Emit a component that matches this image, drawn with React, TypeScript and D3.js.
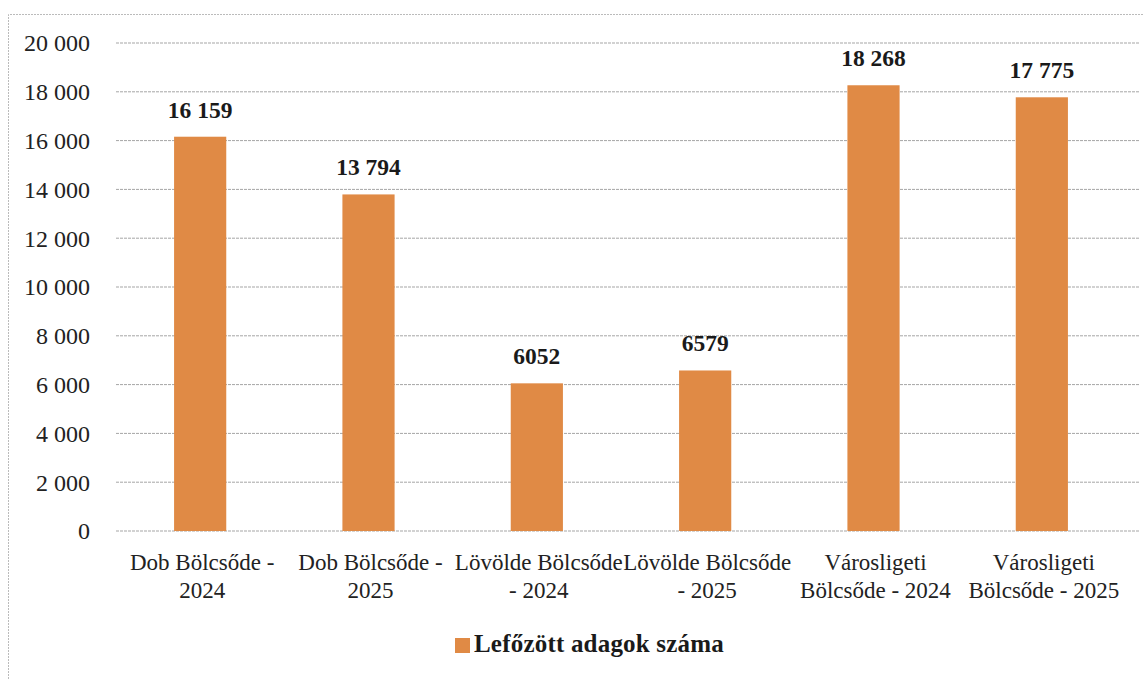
import * as d3 from "d3";

const categories = [
  ["Dob Bölcsőde -", "2024"],
  ["Dob Bölcsőde -", "2025"],
  ["Lövölde Bölcsőde", "- 2024"],
  ["Lövölde Bölcsőde", "- 2025"],
  ["Városligeti", "Bölcsőde - 2024"],
  ["Városligeti", "Bölcsőde - 2025"],
];
const values = [16159, 13794, 6052, 6579, 18268, 17775];
const valueLabels = ["16 159", "13 794", "6052", "6579", "18 268", "17 775"];
const yTicks = [0, 2000, 4000, 6000, 8000, 10000, 12000, 14000, 16000, 18000, 20000];
const seriesName = "Lefőzött adagok száma";

const width = 1144, height = 679;
const margin = { top: 43, right: 18, bottom: 148, left: 116 };
const barColor = "#E08A45";
const font = "'Liberation Serif', serif";

// thousands separated by a space, like the source
const fmt = (v: number) => d3.format(",")(v).replace(/,/g, " ");

export default function App() {
  const x = d3
    .scaleBand<number>()
    .domain(d3.range(values.length))
    .range([margin.left, width - margin.right])
    .paddingInner(0.69)
    .paddingOuter(0.345);
  const y = d3.scaleLinear().domain([0, 20000]).range([height - margin.bottom, margin.top]);

  return (
    <svg width={width} height={height} style={{ position: "absolute", left: 0, top: 0, background: "#fff" }}>
      {/* frame */}
      <path d={`M8.5,${height} V14.5 H${width}`} fill="none" stroke="#bbb" strokeDasharray="2,1" />
      {/* gridlines + y ticks */}
      {yTicks.map((t) => (
        <g key={t}>
          <line x1={margin.left} x2={width - 4} y1={y(t)} y2={y(t)} stroke="#a5a5a5" strokeWidth={1} strokeDasharray="3,1" />
          <text x={90} y={y(t)} dy="0.35em" textAnchor="end" fontFamily={font} fontSize={24} fill="#222">
            {fmt(t)}
          </text>
        </g>
      ))}
      {/* bars */}
      {values.map((v, i) => (
        <g key={i}>
          <rect x={x(i)} y={y(v)} width={x.bandwidth()} height={y(0) - y(v)} fill={barColor} />
          <text
            x={(x(i) as number) + x.bandwidth() / 2}
            y={y(v) - 19}
            textAnchor="middle"
            fontFamily={font}
            fontWeight="bold"
            fontSize={23.5}
            fill="#1a1a1a"
          >
            {valueLabels[i]}
          </text>
          {categories[i].map((line, j) => (
            <text
              key={j}
              x={(x(i) as number) + x.bandwidth() / 2 + 2}
              y={570 + j * 28}
              textAnchor="middle"
              fontFamily={font}
              fontSize={23}
              fill="#222"
            >
              {line}
            </text>
          ))}
        </g>
      ))}
      {/* legend */}
      <rect x={455} y={638} width={15} height={15} fill={barColor} />
      <text x={474} y={652} fontFamily={font} fontWeight="bold" fontSize={25} letterSpacing={0.2} fill="#1a1a1a">
        {seriesName}
      </text>
    </svg>
  );
}
